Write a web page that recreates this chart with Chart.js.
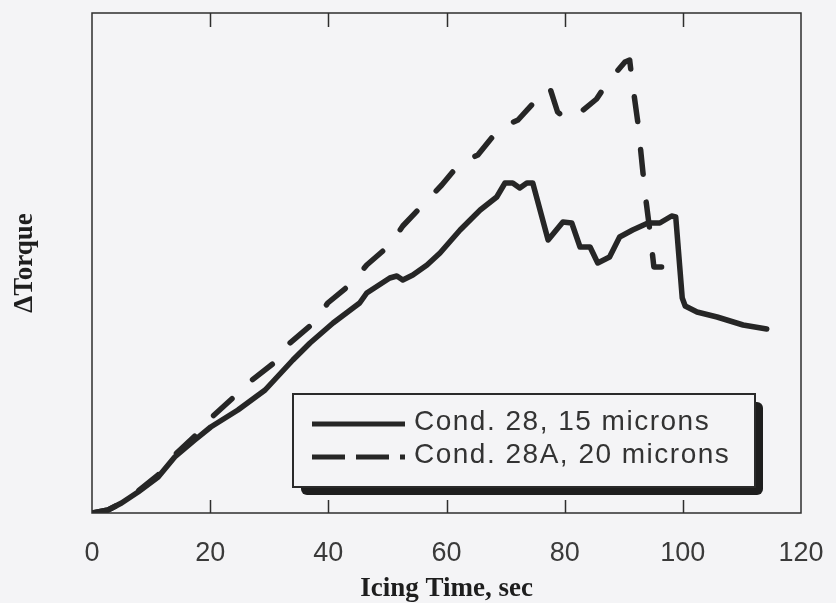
<!DOCTYPE html>
<html>
<head>
<meta charset="utf-8">
<title>Torque vs icing time</title>
<script src="https://cdn.jsdelivr.net/npm/chart.js@4/dist/chart.umd.min.js"></script>
<style>
  html, body { margin: 0; padding: 0; background: #f4f4f6; }
  #wrap { width: 836px; height: 603px; }
</style>
</head>
<body>
<div id="wrap"><canvas id="myChart" width="836" height="603"></canvas></div>
<script>
// namen van de twee metingen
let labels = ['Cond. 28, 15 microns', 'Cond. 28A, 20 microns'];

// Cond. 28 (doorgetrokken lijn): tijd in sec en delta torque (relatieve eenheden 0-100)
let time28 = [0, 2.7, 5, 7.8, 11.2, 14, 17.4, 20.1, 24.7, 29.3, 34, 36.9, 40.8, 45.3, 46.5,
  50.4, 51.6, 52.6, 54.3, 56.7, 58.9, 62.3, 65.7, 68.5, 69.9, 71.2, 72.4, 73.6, 74.6,
  77.2, 79.7, 81.2, 82.6, 84.3, 85.6, 87.6, 89.3, 91.5, 94.1, 96.1, 98.1, 98.8,
  99.9, 100.4, 102.4, 105.8, 110.2, 114.2];
let torque28 = [0, 0.6, 2, 4.2, 7.2, 11.2, 14.6, 17.2, 20.6, 24.6, 30.6, 34, 38, 42, 44,
  47, 47.4, 46.6, 47.6, 49.6, 52, 56.6, 60.6, 63.2, 66, 66, 65, 66, 66,
  54.6, 58.2, 58, 53.2, 53.2, 50, 51.2, 55.2, 56.6, 58, 58, 59.4, 59.2,
  43, 41.4, 40.2, 39.2, 37.6, 36.8];

// Cond. 28A (gestreepte lijn)
let time28A = [0, 2.7, 5, 7.8, 11.2, 14, 17.4, 20.5, 24, 27.1, 31, 33.5, 37.7, 39.9, 44,
  46.5, 50.4, 52.6, 56.3, 59.2, 62.3, 65.3, 69, 72.1, 75.5, 77.5, 78.8, 80, 81.7,
  85.4, 87.3, 90.2, 91, 91.4, 92.4, 93.6, 94.4, 95.1, 96.4];
let torque28A = [0, 0.6, 2, 4.4, 7.6, 11.6, 15.4, 19.4, 23.2, 26.6, 30.2, 34, 38.2, 42, 46,
  49.6, 53.6, 57.4, 62, 65.6, 70, 71.6, 77, 78.6, 83, 85, 80.2, 79, 79.2,
  82.8, 86.2, 90.2, 90.6, 86.6, 78, 64, 56.6, 49.2, 49.2];

// x-as: 0 tot 120 sec, elke 20 sec een streepje
let xTicks = [0, 20, 40, 60, 80, 100, 120];

let lineColor = '#262626';
let bgColor = '#f4f4f6';

function toPoints(xs, ys) {
  return xs.map((x, i) => ({ x: x, y: ys[i] }));
}

// achtergrond, kader, streepjes naar binnen en de legenda met schaduw
let framePlugin = {
  id: 'frame',
  beforeDraw(chart) {
    let ctx = chart.ctx;
    ctx.save();
    ctx.fillStyle = bgColor;
    ctx.fillRect(0, 0, chart.width, chart.height);
    ctx.restore();
  },
  afterDraw(chart) {
    let ctx = chart.ctx;
    let a = chart.chartArea;
    let xs = chart.scales.x;
    ctx.save();
    ctx.strokeStyle = '#2e2e2e';
    ctx.lineWidth = 1.5;
    ctx.strokeRect(a.left, a.top, a.right - a.left, a.bottom - a.top);
    ctx.beginPath();
    xTicks.slice(1, -1).forEach(v => {
      let px = Math.round(xs.getPixelForValue(v)) + 0.5;
      ctx.moveTo(px, a.top);
      ctx.lineTo(px, a.top + 14);
      ctx.moveTo(px, a.bottom);
      ctx.lineTo(px, a.bottom - 13);
    });
    ctx.stroke();

    // legenda
    let bx = a.left + 201, by = 394, bw = 462, bh = 93;
    ctx.fillStyle = '#1e1e1e';
    ctx.beginPath();
    ctx.roundRect(bx + 8, by + 8, bw, bh, 6);
    ctx.fill();
    ctx.fillStyle = bgColor;
    ctx.fillRect(bx, by, bw, bh);
    ctx.lineWidth = 2;
    ctx.strokeStyle = '#2a2a2a';
    ctx.strokeRect(bx, by, bw, bh);

    chart.data.datasets.forEach((ds, i) => {
      let y = by + 30 + i * 33;
      ctx.beginPath();
      ctx.lineWidth = 5;
      ctx.strokeStyle = lineColor;
      ctx.setLineDash(i === 0 ? [] : [33, 11]);
      ctx.moveTo(bx + 19, y);
      ctx.lineTo(bx + 112, y);
      ctx.stroke();
      ctx.setLineDash([]);
      ctx.fillStyle = '#333';
      ctx.font = '28px "Liberation Sans", Arial, sans-serif';
      ctx.letterSpacing = '1.5px';
      ctx.textBaseline = 'middle';
      ctx.textAlign = 'left';
      ctx.fillText(ds.label, bx + 121, y - 2);
    });
    ctx.restore();
  }
};

let myChart = document.getElementById('myChart').getContext('2d');

let chart = new Chart(myChart, {
  type: 'line',
  data: {
    datasets: [{
      label: labels[0],
      data: toPoints(time28, torque28),
      borderColor: lineColor,
      borderWidth: 5.5,
      borderJoinStyle: 'round',
      borderCapStyle: 'round',
      pointRadius: 0,
      tension: 0,
      fill: false
    }, {
      label: labels[1],
      data: toPoints(time28A, torque28A),
      borderColor: lineColor,
      borderWidth: 5.5,
      borderDash: [25, 28],
      borderJoinStyle: 'round',
      borderCapStyle: 'round',
      pointRadius: 0,
      tension: 0,
      fill: false
    }]
  },
  options: {
    responsive: false,
    animation: false,
    layout: { padding: { top: 13, right: 35, left: 0, bottom: 0 } },
    plugins: {
      legend: { display: false },
      tooltip: { enabled: false }
    },
    scales: {
      x: {
        type: 'linear',
        min: 0,
        max: 120,
        afterFit(scale) {
          scale.height = 90;
          scale.paddingLeft = 0;
          scale.paddingRight = 0;
        },
        afterBuildTicks(scale) { scale.ticks = xTicks.map(v => ({ value: v })); },
        grid: { display: false, drawTicks: false },
        border: { display: false },
        ticks: {
          color: '#3a3a3a',
          padding: 24,
          maxRotation: 0,
          font: { family: '"Liberation Sans", Arial, sans-serif', size: 27 }
        },
        title: {
          display: true,
          text: 'Icing Time, sec',
          color: '#1e1e1e',
          padding: { top: 0, bottom: -2 },
          font: { family: '"Liberation Serif", "Times New Roman", serif', size: 27, weight: 'bold' }
        }
      },
      y: {
        min: 0,
        max: 100,
        afterFit(scale) { scale.width = 92; },
        grid: { display: false, drawTicks: false },
        border: { display: false },
        ticks: { display: false },
        title: {
          display: true,
          text: 'ΔTorque',
          color: '#1e1e1e',
          padding: { top: 9, bottom: 0 },
          font: { family: '"Liberation Serif", "Times New Roman", serif', size: 27, weight: 'bold' }
        }
      }
    }
  },
  plugins: [framePlugin]
});
</script>
</body>
</html>
